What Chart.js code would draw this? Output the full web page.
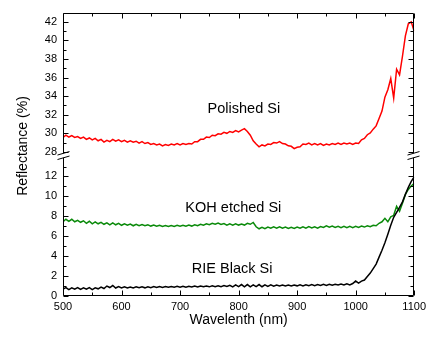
<!DOCTYPE html>
<html><head><meta charset="utf-8">
<script src="https://cdn.jsdelivr.net/npm/chart.js@4.4.1/dist/chart.umd.min.js"></script>
<style>html,body{margin:0;padding:0;background:#fff;}#wrap{width:430px;height:337px;}</style>
</head><body><div id="wrap"><canvas id="c" width="430" height="337"></canvas></div>
<script>
const wavelength = [500,505,510,515,520,525,530,535,540,545,550,555,560,565,570,575,580,585,590,595,
600,605,610,615,620,625,630,635,640,645,650,655,660,665,670,675,680,685,690,695,
700,705,710,715,720,725,730,735,740,745,750,755,760,765,770,775,780,785,790,795,
800,805,810,815,820,825,830,835,840,845,850,855,860,865,870,875,880,885,890,895,
900,905,910,915,920,925,930,935,940,945,950,955,960,965,970,975,980,985,990,995,
1000,1005,1010,1015,1020,1025,1030,1035,1040,1045,1050,1055,1060,1065,1070,1075,1080,1085,1090,1095,1100];

const polishedSi = [29.55,29.8,29.6,29.75,29.55,29.65,29.45,29.6,29.35,29.5,29.3,29.45,29.2,29.35,29.05,29.25,29.1,29.35,29.15,29.3,
29.1,29.25,29.05,29.2,29.05,29.15,28.95,29.1,28.9,29.0,28.8,28.9,28.75,28.85,28.65,28.8,28.7,28.85,28.75,28.9,
28.75,28.9,28.8,28.9,28.85,29.1,29.1,29.35,29.35,29.6,29.55,29.8,29.75,29.95,29.9,30.1,30.0,30.2,30.1,30.3,
30.15,30.35,30.5,30.2,29.8,29.2,28.85,28.55,28.75,28.65,28.85,28.8,29.0,28.95,29.1,28.9,28.85,28.65,28.6,28.35,
28.5,28.55,28.85,28.8,28.95,28.75,28.9,28.75,28.9,28.7,28.85,28.75,28.9,28.8,28.95,28.8,28.95,28.85,28.95,28.8,
28.95,28.9,29.3,29.45,29.85,30.05,30.45,30.8,31.6,32.4,33.9,34.7,35.9,33.8,36.9,36.3,38.3,40.5,41.8,42.0,41.0];

const kohEtchedSi = [7.45,7.7,7.5,7.7,7.45,7.6,7.4,7.55,7.3,7.5,7.25,7.45,7.25,7.4,7.2,7.35,7.15,7.35,7.15,7.3,
7.1,7.25,7.1,7.22,7.05,7.2,7.05,7.18,7.05,7.15,7.02,7.13,7.0,7.1,6.98,7.08,6.97,7.08,6.98,7.1,
7.0,7.1,7.0,7.12,7.02,7.15,7.05,7.2,7.1,7.25,7.15,7.3,7.2,7.33,7.18,7.28,7.12,7.25,7.12,7.25,
7.12,7.22,7.12,7.3,7.2,7.38,6.95,6.75,6.9,6.75,6.92,6.8,6.95,6.82,6.95,6.8,6.92,6.78,6.9,6.78,
6.92,6.8,6.95,6.82,6.97,6.83,6.95,6.82,6.98,6.88,7.05,6.9,7.02,6.88,7.0,6.87,7.0,6.86,7.0,6.87,
7.0,6.88,7.02,6.92,7.05,6.95,7.1,7.05,7.3,7.45,7.8,7.45,7.95,8.1,9.0,8.5,9.3,10.2,10.7,11.05,11.3];

const rieBlackSi = [0.7,0.85,0.65,0.82,0.68,0.85,0.66,0.82,0.68,0.85,0.65,0.82,0.72,0.9,0.75,1.0,0.85,1.05,0.8,0.95,
0.8,0.92,0.8,0.9,0.8,0.92,0.82,0.92,0.82,0.93,0.84,0.94,0.85,0.95,0.86,0.95,0.87,0.96,0.88,0.97,
0.88,0.98,0.89,0.98,0.9,0.99,0.9,1.0,0.92,1.0,0.92,1.02,0.93,1.03,0.94,1.04,0.95,1.08,0.92,1.12,
0.95,1.15,0.93,1.15,0.92,1.12,0.95,1.15,0.93,1.12,0.97,1.12,0.98,1.1,1.0,1.1,1.0,1.1,1.0,1.11,
1.02,1.12,1.02,1.13,1.03,1.14,1.04,1.15,1.05,1.17,1.06,1.18,1.08,1.18,1.1,1.2,1.1,1.22,1.12,1.25,
1.5,1.3,1.5,1.6,1.95,2.3,2.75,3.2,3.9,4.6,5.35,6.2,7.1,7.9,8.4,8.9,9.45,10.2,10.9,11.5,11.95];

const xTickValues = [500,600,700,800,900,1000,1100];
const upperTickValues = [28,30,32,34,36,38,40,42];
const lowerTickValues = [0,2,4,6,8,10,12];
const seriesLabels = ['Polished Si','KOH etched Si','RIE Black Si'];
const labelAnchorX = [809,791,789];
const labelAnchorY = [32.16,8.4,2.35];
const xTitle = 'Wavelenth (nm)';
const yTitle = 'Reflectance (%)';

const FONT = "'Liberation Sans', Arial, sans-serif";

const decor = {
  id: 'decor',
  afterDraw(chart) {
    const ctx = chart.ctx, ca = chart.chartArea;
    const xs = chart.scales.x, yU = chart.scales.yUp, yL = chart.scales.yLow;
    const L = Math.round(ca.left) + 0.5, R = Math.round(ca.right) - 0.5;
    const T = Math.round(ca.top) + 0.5, B = Math.round(ca.bottom) - 0.5;
    const g = yU.bottom - 1;
    ctx.save();
    ctx.strokeStyle = '#000';
    ctx.lineWidth = 1;
    ctx.beginPath();
    ctx.moveTo(L, T); ctx.lineTo(R, T);
    ctx.moveTo(L, B); ctx.lineTo(R, B);
    ctx.moveTo(L, T); ctx.lineTo(L, g - 2.2);
    ctx.moveTo(L, g + 2.2); ctx.lineTo(L, B);
    ctx.moveTo(R, T); ctx.lineTo(R, g - 2.2);
    ctx.moveTo(R, g + 2.2); ctx.lineTo(R, B);
    const hTick = (scale, v, len) => {
      const y = Math.round(scale.getPixelForValue(v)) + 0.5;
      ctx.moveTo(L, y); ctx.lineTo(L + len, y);
      ctx.moveTo(R, y); ctx.lineTo(R - len, y);
    };
    upperTickValues.forEach(v => { hTick(yU, v, 5); if (v + 1 < yU.max) hTick(yU, v + 1, 3); });
    lowerTickValues.forEach(v => { hTick(yL, v, 5); hTick(yL, v + 1, 3); });
    xTickValues.forEach((v, i) => {
      const x = Math.round(xs.getPixelForValue(v)) + 0.5;
      ctx.moveTo(x, B); ctx.lineTo(x, B - 5);
      ctx.moveTo(x, T); ctx.lineTo(x, T + 5);
      if (i < xTickValues.length - 1) {
        const xm = Math.round(xs.getPixelForValue((v + xTickValues[i + 1]) / 2)) + 0.5;
        ctx.moveTo(xm, B); ctx.lineTo(xm, B - 3);
        ctx.moveTo(xm, T); ctx.lineTo(xm, T + 3);
      }
    });
    [L, R].forEach(ax => {
      ctx.moveTo(ax - 6, g - 0.5); ctx.lineTo(ax + 6, g - 4);
      ctx.moveTo(ax - 6, g + 4); ctx.lineTo(ax + 6, g + 0.5);
    });
    ctx.stroke();

    ctx.fillStyle = '#000';
    ctx.font = '14px ' + FONT;
    ctx.textAlign = 'center';
    ctx.textBaseline = 'alphabetic';
    ctx.fillText(xTitle, (ca.left + ca.right) / 2, 324);
    ctx.save();
    ctx.translate(27, 146);
    ctx.rotate(-Math.PI / 2);
    ctx.fillText(yTitle, 0, 0);
    ctx.restore();
    ctx.font = '14.5px ' + FONT;
    const scalesFor = [yU, yL, yL];
    seriesLabels.forEach((t, i) => {
      ctx.fillText(t, xs.getPixelForValue(labelAnchorX[i]), scalesFor[i].getPixelForValue(labelAnchorY[i]));
    });
    ctx.restore();
  }
};

const pts = arr => wavelength.map((w, i) => ({x: w, y: arr[i]}));
const tickFont = {family: FONT, size: 11};
const plain = v => String(v);

new Chart(document.getElementById('c'), {
  type: 'line',
  data: {
    datasets: [
      {label: seriesLabels[2], data: pts(rieBlackSi), borderColor: '#000000', yAxisID: 'yLow'},
      {label: seriesLabels[1], data: pts(kohEtchedSi), borderColor: '#0a8a0a', yAxisID: 'yLow'},
      {label: seriesLabels[0], data: pts(polishedSi), borderColor: '#ff0000', yAxisID: 'yUp'}
    ]
  },
  options: {
    responsive: false,
    animation: false,
    devicePixelRatio: 1,
    layout: {padding: {top: 10, right: 14, left: 0, bottom: 0}},
    elements: {point: {radius: 0}, line: {borderWidth: 1.5, tension: 0}},
    plugins: {legend: {display: false}, tooltip: {enabled: false}},
    scales: {
      x: {
        type: 'linear', min: 500, max: 1100,
        afterBuildTicks: s => { s.ticks = xTickValues.map(v => ({value: v})); },
        afterFit: s => { s.height = 41; },
        grid: {display: false, drawTicks: false}, border: {display: false},
        ticks: {font: tickFont, color: '#000', padding: 4, maxRotation: 0, autoSkip: false, callback: plain}
      },
      yLow: {
        type: 'linear', position: 'left', stack: 'ys', stackWeight: 140, min: 0, max: 14,
        afterBuildTicks: s => { s.ticks = lowerTickValues.map(v => ({value: v})); },
        afterFit: s => { s.width = 63; },
        grid: {display: false, drawTicks: false}, border: {display: false},
        ticks: {font: tickFont, color: '#000', padding: 6, autoSkip: false, callback: plain}
      },
      yUp: {
        type: 'linear', position: 'left', stack: 'ys', stackWeight: 144.5, min: 27.5, max: 43,
        afterBuildTicks: s => { s.ticks = upperTickValues.map(v => ({value: v})); },
        afterFit: s => { s.width = 63; },
        grid: {display: false, drawTicks: false}, border: {display: false},
        ticks: {font: tickFont, color: '#000', padding: 6, autoSkip: false, callback: plain}
      }
    }
  },
  plugins: [decor]
});
</script>
</body></html>
